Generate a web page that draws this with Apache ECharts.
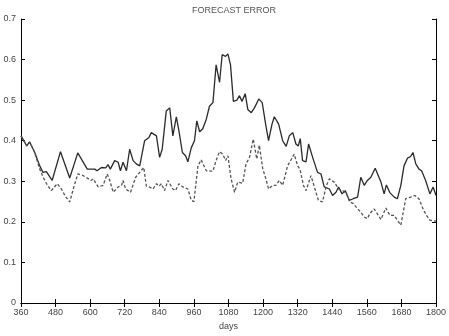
<!DOCTYPE html>
<html>
<head>
<meta charset="utf-8">
<script src="https://cdn.jsdelivr.net/npm/echarts@6/dist/echarts.min.js"></script>
<style>
  html, body { margin: 0; padding: 0; background: #fff; }
  #chart { width: 449px; height: 336px; }
</style>
</head>
<body>
<div id="chart"></div>
<script>
// solid line (days / error)
var solidDays = [360, 373, 380, 390, 407, 425, 436, 448, 468, 497, 529, 557, 590, 609, 616, 624, 639, 654, 662, 670,
  685, 697, 705, 714, 726, 737, 749, 760, 772, 789, 804, 812, 818, 830, 841, 850, 864, 876, 887, 899,
  908, 920, 931, 939, 951, 962, 970, 980, 991, 1003, 1014, 1026, 1037, 1049, 1058, 1070, 1078, 1087, 1097, 1109,
  1118, 1127, 1138, 1147, 1159, 1170, 1185, 1197, 1210, 1219, 1231, 1239, 1254, 1268, 1280, 1291, 1303, 1314, 1322, 1329,
  1337, 1349, 1358, 1372, 1389, 1401, 1412, 1430, 1441, 1453, 1462, 1474, 1485, 1499, 1513, 1528, 1539, 1551, 1562, 1574,
  1589, 1609, 1620, 1628, 1640, 1655, 1666, 1678, 1689, 1701, 1712, 1720, 1730, 1741, 1750, 1764, 1779, 1790, 1800];
var solidVals = [0.412, 0.396, 0.387, 0.397, 0.372, 0.338, 0.322, 0.324, 0.302, 0.373, 0.308, 0.37, 0.33, 0.33, 0.33, 0.326, 0.334, 0.333, 0.341, 0.33,
  0.351, 0.347, 0.326, 0.347, 0.326, 0.379, 0.351, 0.343, 0.338, 0.40, 0.408, 0.42, 0.424, 0.412, 0.359, 0.379, 0.473, 0.481, 0.412, 0.459,
  0.424, 0.371, 0.363, 0.348, 0.383, 0.40, 0.449, 0.422, 0.43, 0.453, 0.485, 0.494, 0.587, 0.544, 0.612, 0.608, 0.614, 0.587, 0.497, 0.50,
  0.511, 0.497, 0.516, 0.477, 0.469, 0.481, 0.503, 0.494, 0.436, 0.40, 0.441, 0.459, 0.441, 0.40, 0.386, 0.412, 0.42, 0.392, 0.387, 0.405,
  0.351, 0.348, 0.392, 0.359, 0.322, 0.318, 0.286, 0.281, 0.265, 0.273, 0.286, 0.269, 0.277, 0.253, 0.257, 0.261, 0.31, 0.29, 0.302, 0.31,
  0.332, 0.298, 0.269, 0.291, 0.272, 0.261, 0.257, 0.29, 0.338, 0.357, 0.361, 0.371, 0.343, 0.33, 0.326, 0.302, 0.269, 0.286, 0.265];

// dashed line (days / error)
var dashDays = [360, 373, 380, 390, 407, 425, 436, 448, 465, 486, 500, 515, 529, 545, 557, 572, 586, 603, 610, 628,
  645, 659, 668, 680, 697, 709, 714, 723, 740, 758, 772, 786, 795, 806, 818, 830, 839, 847, 858, 870,
  887, 896, 908, 922, 939, 951, 960, 974, 985, 1003, 1026, 1037, 1049, 1060, 1070, 1078, 1089, 1101, 1112, 1129,
  1141, 1153, 1166, 1178, 1187, 1199, 1210, 1219, 1233, 1245, 1256, 1268, 1285, 1297, 1308, 1320, 1328, 1340, 1349, 1366,
  1378, 1392, 1406, 1420, 1430, 1447, 1462, 1476, 1490, 1501, 1513, 1528, 1539, 1551, 1562, 1570, 1585, 1593, 1609, 1626,
  1640, 1655, 1666, 1678, 1695, 1712, 1727, 1741, 1755, 1767, 1779, 1800];
var dashVals = [0.412, 0.396, 0.387, 0.397, 0.372, 0.33, 0.311, 0.295, 0.277, 0.294, 0.281, 0.262, 0.249, 0.29, 0.318, 0.315, 0.31, 0.302, 0.306, 0.286,
  0.29, 0.318, 0.302, 0.273, 0.286, 0.29, 0.302, 0.281, 0.273, 0.31, 0.322, 0.334, 0.288, 0.286, 0.281, 0.294, 0.288, 0.294, 0.277, 0.302,
  0.281, 0.277, 0.294, 0.286, 0.281, 0.253, 0.25, 0.338, 0.353, 0.326, 0.325, 0.351, 0.373, 0.367, 0.351, 0.363, 0.306, 0.273, 0.298, 0.295,
  0.343, 0.359, 0.404, 0.355, 0.389, 0.33, 0.306, 0.281, 0.29, 0.29, 0.302, 0.29, 0.338, 0.353, 0.367, 0.338, 0.33, 0.29, 0.277, 0.314,
  0.286, 0.253, 0.249, 0.29, 0.306, 0.298, 0.281, 0.277, 0.269, 0.249, 0.245, 0.232, 0.224, 0.212, 0.208, 0.22, 0.232, 0.224, 0.206, 0.234,
  0.216, 0.216, 0.204, 0.192, 0.257, 0.261, 0.265, 0.257, 0.232, 0.216, 0.204, 0.202];

function pairs(xs, ys) {
  var out = [];
  for (var i = 0; i < xs.length; i++) out.push([xs[i], ys[i]]);
  return out;
}

var chart = echarts.init(document.getElementById('chart'));
var font = 'Liberation Sans, Arial, sans-serif';
var tickStyle = { show: true, inside: true, length: 4, lineStyle: { color: '#000', width: 1 } };
var lineStyleAxis = { show: true, lineStyle: { color: '#000', width: 1 } };

var option = {
  animation: false,
  backgroundColor: '#fff',
  title: {
    text: 'FORECAST ERROR',
    left: 229, top: 1, textAlign: 'center',
    textStyle: { fontFamily: font, fontSize: 9, fontWeight: 'normal', color: '#555' }
  },
  grid: { left: 21, right: 12, top: 19, bottom: 31 },
  xAxis: [{
    type: 'value', min: 360, max: 1800, interval: 120,
    name: 'days', nameLocation: 'middle', nameGap: 19,
    nameTextStyle: { fontFamily: font, fontSize: 9, color: '#444' },
    axisLine: lineStyleAxis, axisTick: tickStyle, splitLine: { show: false },
    axisLabel: {
      fontFamily: font, fontSize: 9, color: '#444', margin: 5,
      formatter: function (v) { return String(v); }
    }
  }, {
    type: 'value', min: 360, max: 1800, interval: 120, position: 'top',
    axisLine: lineStyleAxis, axisTick: tickStyle, splitLine: { show: false },
    axisLabel: { show: false }
  }],
  yAxis: [{
    type: 'value', min: 0, max: 0.7, interval: 0.1,
    axisLine: lineStyleAxis, axisTick: tickStyle, splitLine: { show: false },
    axisLabel: {
      fontFamily: font, fontSize: 9, color: '#444', margin: 5,
      formatter: function (v) { return v === 0 ? '0' : v.toFixed(1); }
    }
  }, {
    type: 'value', min: 0, max: 0.7, interval: 0.1, position: 'right',
    axisLine: lineStyleAxis, axisTick: tickStyle, splitLine: { show: false },
    axisLabel: { show: false }
  }],
  series: [{
    type: 'line', data: pairs(solidDays, solidVals),
    showSymbol: false, lineStyle: { color: '#2a2a2a', width: 1.3, type: 'solid' }
  }, {
    type: 'line', data: pairs(dashDays, dashVals),
    showSymbol: false, lineStyle: { color: '#555', width: 1.3, type: [3, 2] }
  }]
};

chart.setOption(option);
</script>
</body>
</html>
